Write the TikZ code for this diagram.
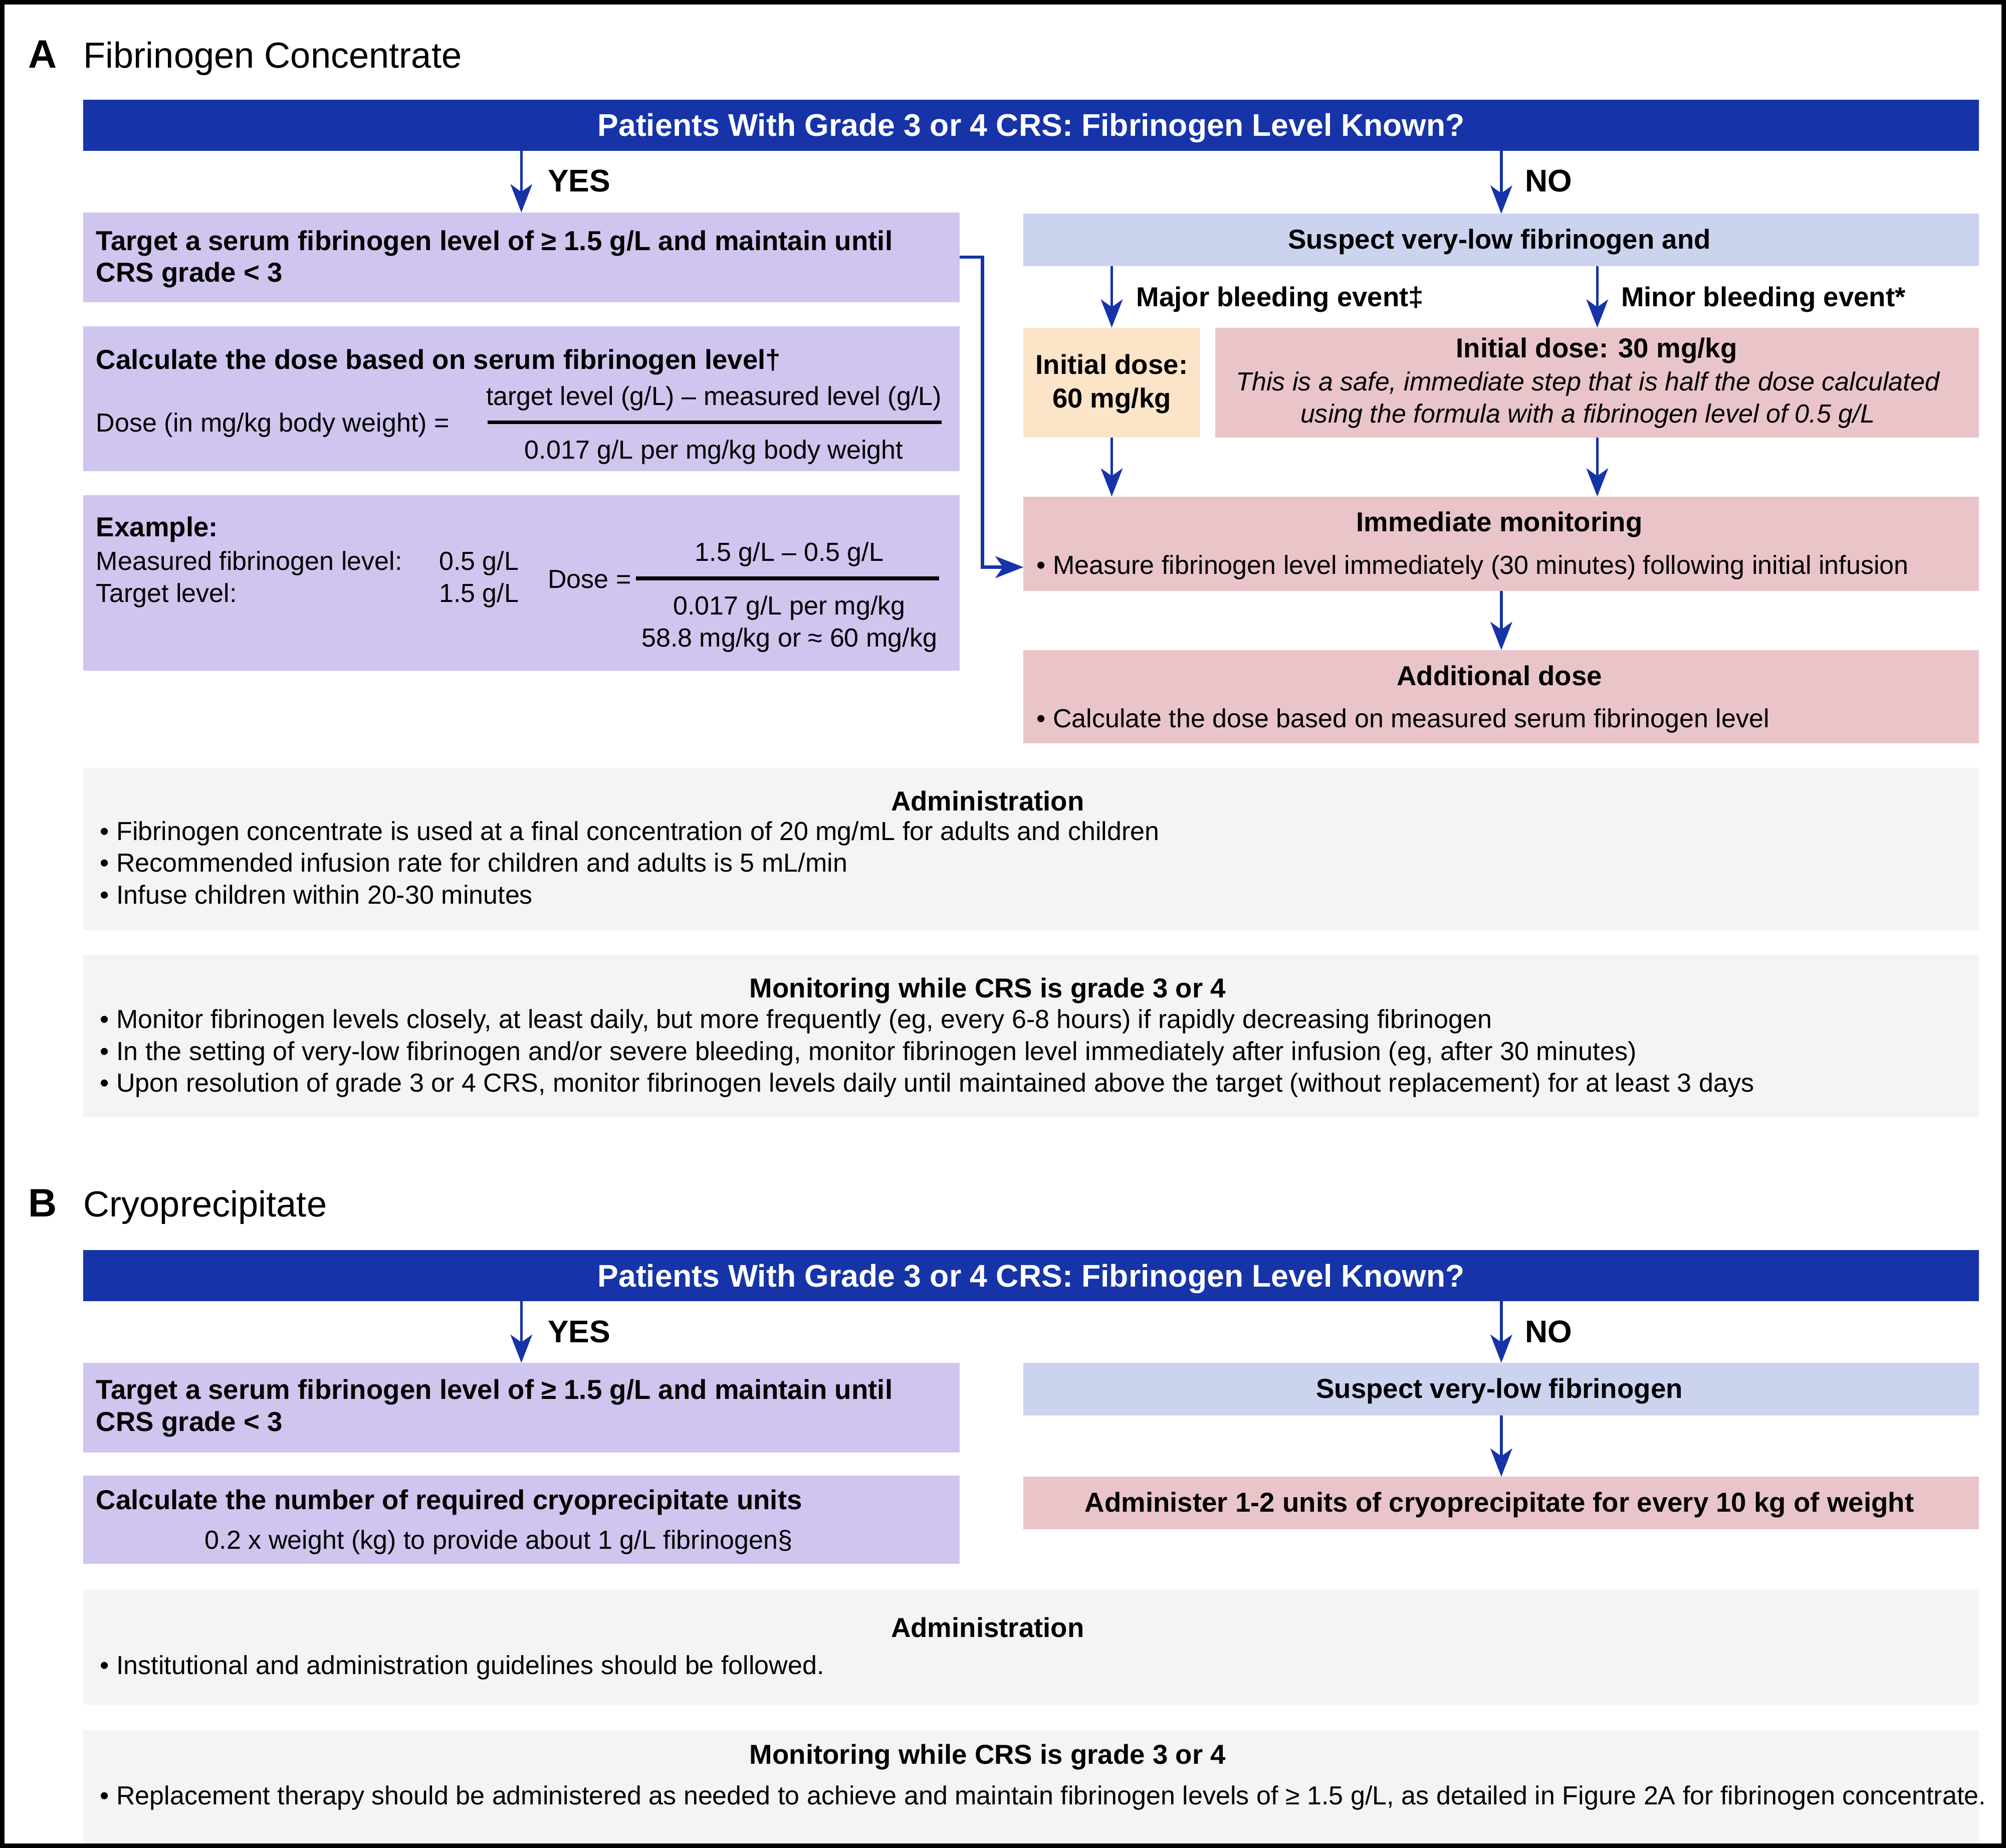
\documentclass[tikz,border=0pt]{standalone}
\usepackage{fontspec}
\setmainfont{Liberation Sans}
\usetikzlibrary{arrows.meta}

\definecolor{bandblue}{HTML}{1634A8}
\definecolor{lilac}{HTML}{CFC5EE}
\definecolor{paleblue}{HTML}{CBD3EF}
\definecolor{peach}{HTML}{FBE4C8}
\definecolor{rose}{HTML}{E9C5CA}
\definecolor{mist}{HTML}{F4F4F6}

\tikzset{
  box/.style={anchor=north west, inner sep=0pt, outer sep=0pt},
  arr/.style={draw=bandblue, line width=2.2pt, -{Stealth[length=22pt, width=17pt, inset=6pt]}},
  txt/.style={inner sep=0pt, font=\fontsize{20.4}{25}\selectfont},
  hd/.style={inner sep=0pt, font=\fontsize{21.4}{25}\selectfont\bfseries},
  big/.style={inner sep=0pt, font=\fontsize{24.5}{25}\selectfont\bfseries},
  band/.style={box, fill=bandblue, minimum width=1482pt, minimum height=40pt},
}

\begin{document}
\begin{tikzpicture}[x=1pt, y=-1pt]
        \useasboundingbox (0,0) rectangle (1568,1444);

        % ---------------- A ----------------
        \node[anchor=base west, inner sep=0pt, font=\fontsize{31}{30}\selectfont\bfseries] (lblA) at (22,53) {A};
        \node[anchor=base west, inner sep=0pt, font=\fontsize{28.3}{30}\selectfont] (ttlA) at (65,53) {Fibrinogen Concentrate};

        % banner
        \node[band] (banA) at (65,78) {};
        \node[big, anchor=base, text=white] (banAt) at (806,106.5) {Patients With Grade 3 or 4 CRS: Fibrinogen Level Known?};

        % yes column
        \node[box, fill=lilac, minimum width=685pt, minimum height=70pt] (a1) at (65,166) {};
        \node[box, fill=lilac, minimum width=685pt, minimum height=113pt] (a2) at (65,255) {};
        \node[box, fill=lilac, minimum width=685pt, minimum height=137pt] (a3) at (65,387) {};

        \node[hd, anchor=base west] (a1t) at (75,195.5) {Target a serum fibrinogen level of ≥ 1.5 g/L and maintain until};
        \node[hd, anchor=base west] (a1u) at (75,220.5) {CRS grade < 3};

        \node[hd, anchor=base west] (a2t) at (75,288.5) {Calculate the dose based on serum fibrinogen level†};
        \node[txt, anchor=base west] (a2d) at (75,337.5) {Dose (in mg/kg body weight) =};
        \node[txt, anchor=base] (a2n) at (558,316.5) {target level (g/L) – measured level (g/L)};
        \node[txt, anchor=base] (a2m) at (558,358.5) {0.017 g/L per mg/kg body weight};
        \draw[line width=3pt] (381,330) -- (736,330);

        \node[hd, anchor=base west] (a3t) at (75,419.5) {Example:};
        \node[txt, anchor=base west] (a3m) at (75,445.5) {Measured fibrinogen level:};
        \node[txt, anchor=base west] (a3mv) at (343,445.5) {0.5 g/L};
        \node[txt, anchor=base west] (a3g) at (75,470.5) {Target level:};
        \node[txt, anchor=base west] (a3gv) at (343,470.5) {1.5 g/L};
        \node[txt, anchor=base west] (a3d) at (428,459.5) {Dose =};
        \node[txt, anchor=base] (a3n) at (617,438.5) {1.5 g/L – 0.5 g/L};
        \node[txt, anchor=base] (a3k) at (617,480.5) {0.017 g/L per mg/kg};
        \node[txt, anchor=base] (a3r) at (617,505.5) {58.8 mg/kg or ≈ 60 mg/kg};
        \draw[line width=3pt] (497,452) -- (734,452);

        % no column
        \node[box, fill=paleblue, minimum width=747pt, minimum height=41pt] (b1) at (800,167) {};
        \node[hd, anchor=base] (b1t) at (1172,194.5) {Suspect very-low fibrinogen and};
        \node[box, fill=peach, minimum width=138pt, minimum height=86pt] (b2) at (800,256) {};
        \node[hd, anchor=base] (b2t) at (869,292.5) {Initial dose:};
        \node[hd, anchor=base] (b2u) at (869,318.5) {60 mg/kg};
        \node[box, fill=rose, minimum width=597pt, minimum height=86pt] (b3) at (950,256) {};
        \node[hd, anchor=base] (b3t) at (1248,279.5) {Initial dose: 30 mg/kg};
        \node[txt, anchor=base, font=\fontsize{20.4}{25}\selectfont\itshape] (b3u) at (1241,305.5) {This is a safe, immediate step that is half the dose calculated};
        \node[txt, anchor=base, font=\fontsize{20.4}{25}\selectfont\itshape] (b3v) at (1241,330.5) {using the formula with a fibrinogen level of 0.5 g/L};
        \node[box, fill=rose, minimum width=747pt, minimum height=74pt] (b4) at (800,388) {};
        \node[hd, anchor=base] (b4t) at (1172,415.5) {Immediate monitoring};
        \node[txt, anchor=base west] (b4u) at (810,448.5) {• Measure fibrinogen level immediately (30 minutes) following initial infusion};
        \node[box, fill=rose, minimum width=747pt, minimum height=73pt] (b5) at (800,508) {};
        \node[hd, anchor=base] (b5t) at (1172,535.5) {Additional dose};
        \node[txt, anchor=base west] (b5u) at (810,568.5) {• Calculate the dose based on measured serum fibrinogen level};

        % yes / no
        \draw[arr] (a1.north |- banA.south) -- (a1.north);
        \draw[arr] (b1.north |- banA.south) -- (b1.north);
        \node[big, anchor=base west] (yesA) at (428,150) {YES};
        \node[big, anchor=base west] (noA) at (1192,150) {NO};

        % bleeding
        \draw[arr] (b2.north |- b1.south) -- (b2.north);
        \draw[arr] (b3.north |- b1.south) -- (b3.north);
        \node[hd, anchor=base west] (major) at (888,239.5) {Major bleeding event‡};
        \node[hd, anchor=base west] (minor) at (1267,239.5) {Minor bleeding event*};
        \draw[arr] (b2.south) -- (b4.north -| b2.south);
        \draw[arr] (b3.south) -- (b4.north -| b3.south);
        \draw[arr] (b4.south -| b1.south) -- (b5.north -| b1.south);
        \coordinate (elbow) at (768,0);
        \draw[arr, line width=2.6pt] (a1.east) -| (elbow |- b4u) -- (b4.west |- b4u);

        % administration + monitoring
        \node[box, fill=mist, minimum width=1482pt, minimum height=127pt] (admA) at (65,600) {};
        \node[hd, anchor=base] (admAt) at (772,633.5) {Administration};
        \node[txt, anchor=base west] (admA1) at (78,656.5) {• Fibrinogen concentrate is used at a final concentration of 20 mg/mL for adults and children};
        \node[txt, anchor=base west] (admA2) at (78,681.5) {• Recommended infusion rate for children and adults is 5 mL/min};
        \node[txt, anchor=base west] (admA3) at (78,706.5) {• Infuse children within 20-30 minutes};

        \node[box, fill=mist, minimum width=1482pt, minimum height=127pt] (monA) at (65,746) {};
        \node[hd, anchor=base] (monAt) at (772,779.5) {Monitoring while CRS is grade 3 or 4};
        \node[txt, anchor=base west] (monA1) at (78,803.5) {• Monitor fibrinogen levels closely, at least daily, but more frequently (eg, every 6-8 hours) if rapidly decreasing fibrinogen};
        \node[txt, anchor=base west] (monA2) at (78,828.5) {• In the setting of very-low fibrinogen and/or severe bleeding, monitor fibrinogen level immediately after infusion (eg, after 30 minutes)};
        \node[txt, anchor=base west] (monA3) at (78,853.5) {• Upon resolution of grade 3 or 4 CRS, monitor fibrinogen levels daily until maintained above the target (without replacement) for at least 3 days};

        % ---------------- B ----------------
        \node[anchor=base west, inner sep=0pt, font=\fontsize{31}{30}\selectfont\bfseries] (lblB) at (22,951) {B};
        \node[anchor=base west, inner sep=0pt, font=\fontsize{28.3}{30}\selectfont] (ttlB) at (65,951) {Cryoprecipitate};

        \node[band] (banB) at (65,977) {};
        \node[big, anchor=base, text=white] (banBt) at (806,1005.5) {Patients With Grade 3 or 4 CRS: Fibrinogen Level Known?};

        \node[box, fill=lilac, minimum width=685pt, minimum height=70pt] (c1) at (65,1065) {};
        \node[hd, anchor=base west] (c1t) at (75,1093.5) {Target a serum fibrinogen level of ≥ 1.5 g/L and maintain until};
        \node[hd, anchor=base west] (c1u) at (75,1118.5) {CRS grade < 3};
        \node[box, fill=lilac, minimum width=685pt, minimum height=69pt] (c2) at (65,1153) {};
        \node[hd, anchor=base west] (c2t) at (75,1179.5) {Calculate the number of required cryoprecipitate units};
        \node[txt, anchor=base west] (c2u) at (160,1210.5) {0.2 x weight (kg) to provide about 1 g/L fibrinogen§};

        \node[box, fill=paleblue, minimum width=747pt, minimum height=41pt] (d1) at (800,1065) {};
        \node[hd, anchor=base] (d1t) at (1172,1092.5) {Suspect very-low fibrinogen};
        \node[box, fill=rose, minimum width=747pt, minimum height=41pt] (d2) at (800,1154) {};
        \node[hd, anchor=base] (d2t) at (1172,1181.5) {Administer 1-2 units of cryoprecipitate for every 10 kg of weight};

        \draw[arr] (c1.north |- banB.south) -- (c1.north);
        \draw[arr] (d1.north |- banB.south) -- (d1.north);
        \node[big, anchor=base west] (yesB) at (428,1049) {YES};
        \node[big, anchor=base west] (noB) at (1192,1049) {NO};
        \draw[arr] (d1.south) -- (d2.north);

        \node[box, fill=mist, minimum width=1482pt, minimum height=90pt] (admB) at (65,1242) {};
        \node[hd, anchor=base] (admBt) at (772,1279.5) {Administration};
        \node[txt, anchor=base west] (admB1) at (78,1308.5) {• Institutional and administration guidelines should be followed.};

        \node[box, fill=mist, minimum width=1482pt, minimum height=90pt] (monB) at (65,1352) {};
        \node[hd, anchor=base] (monBt) at (772,1378.5) {Monitoring while CRS is grade 3 or 4};
        \node[txt, anchor=base west] (monB1) at (78,1410.5) {• Replacement therapy should be administered as needed to achieve and maintain fibrinogen levels of ≥ 1.5 g/L, as detailed in Figure 2A for fibrinogen concentrate.};

        % frame
        \draw[line width=3.5pt] (1.75,1.75) rectangle (1566.25,1442.25);
\end{tikzpicture}
\end{document}
